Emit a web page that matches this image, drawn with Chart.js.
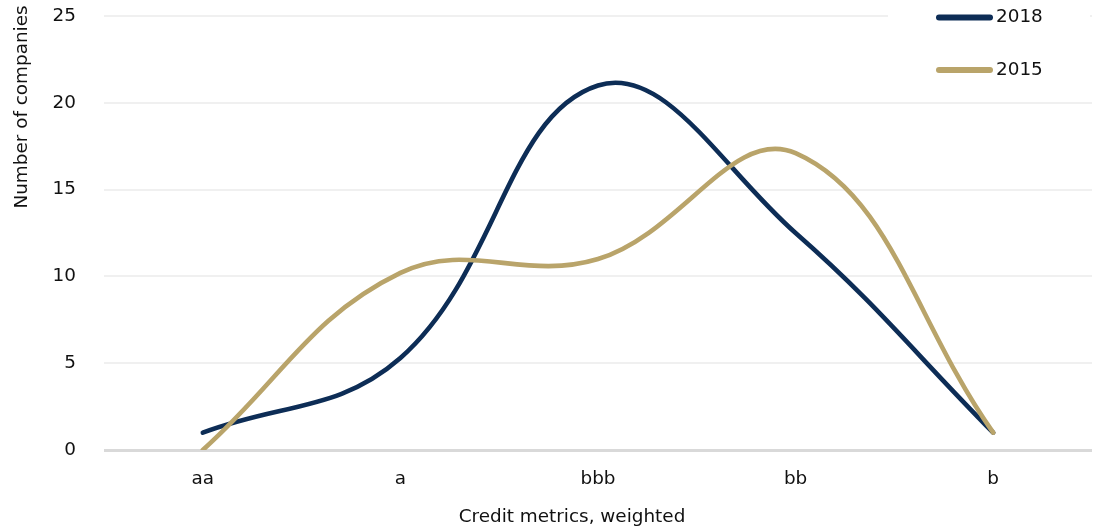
<!DOCTYPE html>
<html>
<head>
<meta charset="utf-8">
<script src="https://cdn.jsdelivr.net/npm/chart.js@4.4.1/dist/chart.umd.min.js"></script>
<style>
  html, body { margin: 0; padding: 0; background: #ffffff; }
  #wrap { width: 1103px; height: 530px; position: relative; }
</style>
</head>
<body>
<div id="wrap"><canvas id="chart" width="1103" height="530"></canvas></div>
<script>
// Distribution of companies by weighted credit metric
const categories = ['aa', 'a', 'bbb', 'bb', 'b'];
const companies2018 = [1, 5.3, 21, 12.5, 1];
const companies2015 = [0, 10.2, 11, 17.1, 1];
const yTickValues = [0, 5, 10, 15, 20, 25];
const seriesNames = ['2018', '2015'];
const yAxisTitle = 'Number of companies';
const xAxisTitle = 'Credit metrics, weighted';

const NAVY = '#0d2d56';
const GOLD = '#b9a46a';
const TEXT = '#111111';
const FONT = { family: '"DejaVu Sans", Verdana, sans-serif', size: 18.4 };

// Axis captions: rotated y caption near the top, x caption below the labels
const axisCaptions = {
  id: 'axisCaptions',
  afterDraw(chart) {
    const ctx = chart.ctx;
    ctx.save();
    ctx.font = `${FONT.size}px ${FONT.family}`;
    ctx.fillStyle = TEXT;
    ctx.textAlign = 'center';
    ctx.textBaseline = 'middle';
    ctx.fillText(xAxisTitle, 572, 517);
    ctx.translate(22, 107);
    ctx.rotate(-Math.PI / 2);
    ctx.fillText(yAxisTitle, 0, 0);
    ctx.restore();
  }
};

// Legend drawn over the top-right corner of the plot
const cornerLegend = {
  id: 'cornerLegend',
  afterDraw(chart) {
    const ctx = chart.ctx;
    ctx.save();
    ctx.fillStyle = '#ffffff';
    ctx.fillRect(888, 0, 202, 95);
    ctx.font = `${FONT.size}px ${FONT.family}`;
    ctx.textAlign = 'left';
    ctx.textBaseline = 'middle';
    chart.data.datasets.forEach((ds, i) => {
      const y = 17.5 + i * 52.5;
      ctx.strokeStyle = ds.borderColor;
      ctx.lineWidth = 6;
      ctx.lineCap = 'round';
      ctx.beginPath();
      ctx.moveTo(939, y);
      ctx.lineTo(990, y);
      ctx.stroke();
      ctx.fillStyle = TEXT;
      ctx.fillText(ds.label, 996, y);
    });
    ctx.restore();
  }
};

const chart = new Chart(document.getElementById('chart'), {
  type: 'line',
  data: {
    labels: categories,
    datasets: [
      {
        label: seriesNames[0],
        data: companies2018,
        borderColor: NAVY,
        backgroundColor: NAVY,
        order: 1
      },
      {
        label: seriesNames[1],
        data: companies2015,
        borderColor: GOLD,
        backgroundColor: GOLD,
        order: 0
      }
    ]
  },
  options: {
    responsive: false,
    animation: false,
    devicePixelRatio: 1,
    layout: { padding: { top: 16, right: 11, left: 0, bottom: 0 } },
    elements: {
      line: { borderWidth: 4.6, tension: 0.4, fill: false, borderCapStyle: 'round', borderJoinStyle: 'round' },
      point: { radius: 0, hoverRadius: 0 }
    },
    plugins: {
      legend: { display: false },
      tooltip: { enabled: false }
    },
    scales: {
      x: {
        offset: true,
        grid: { display: false, drawTicks: false },
        border: { display: false },
        ticks: { padding: 18, color: TEXT, font: FONT, maxRotation: 0 },
        afterFit(scale) {
          scale.height = 80;
          scale.paddingLeft = 0;
          scale.paddingRight = 0;
        }
      },
      y: {
        min: 0,
        max: 25,
        afterBuildTicks(scale) { scale.ticks = yTickValues.map(v => ({ value: v })); },
        ticks: { padding: 28, color: TEXT, font: FONT },
        grid: {
          drawTicks: false,
          color: c => (c.tick && c.tick.value === 0 ? '#d9d9d9' : '#f0f0f0'),
          lineWidth: c => (c.tick && c.tick.value === 0 ? 3 : 2)
        },
        border: { display: false },
        afterFit(scale) {
          scale.width = 104;
          scale.paddingTop = 0;
          scale.paddingBottom = 0;
        }
      }
    }
  },
  plugins: [axisCaptions, cornerLegend]
});
</script>
</body>
</html>
